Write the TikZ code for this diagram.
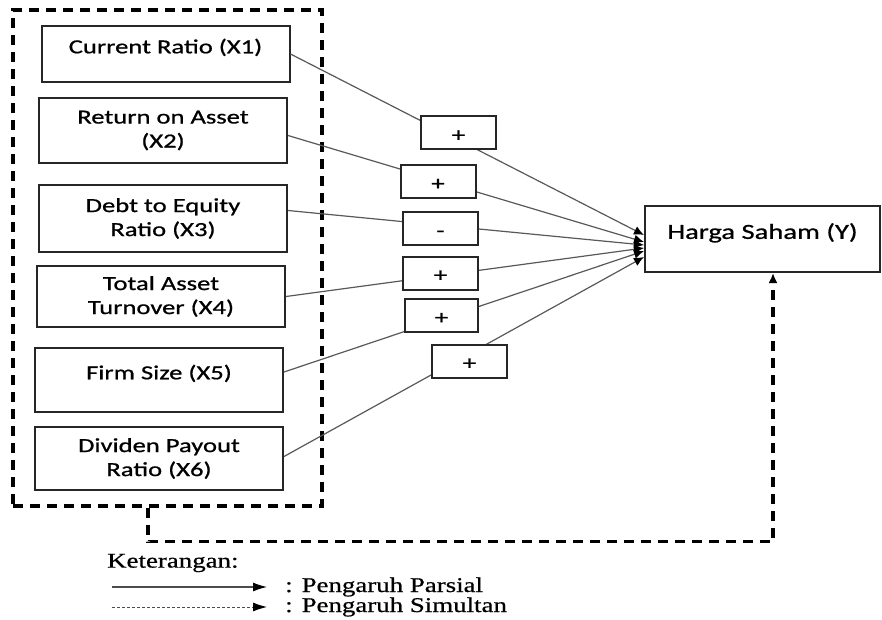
\documentclass[tikz,border=0pt]{standalone}
\usepackage{fontspec}
\setmainfont{Liberation Serif}
\newfontfamily\boxfont[FakeStretch=1.33,FakeBold=0.8]{Carlito}
\newfontfamily\notefont[FakeStretch=1.28,FakeBold=0.6]{Liberation Serif}
\usepackage{tikz}
\usetikzlibrary{arrows.meta,calc}
\tikzset{
  var/.style={draw=black!85, line width=2pt, minimum width=248pt, inner sep=0pt, align=center, font=\boxfont\fontsize{20}{24}\selectfont},
  sign/.style={draw=black!85, line width=2pt, fill=white, minimum width=75pt, minimum height=33pt, inner sep=0pt, text height=17pt, text depth=0pt, font=\boxfont\fontsize{20}{24}\selectfont},
  parsial/.style={draw=black!65, line width=1.2pt, -{Latex[length=10pt,width=9pt,black]}},
  simultan/.style={line width=3.4pt, dash pattern=on 10pt off 7pt},
  note/.style={anchor=west, inner sep=0pt, font=\notefont\fontsize{21}{22}\selectfont}
}
\begin{document}
\begin{tikzpicture}[x=1pt,y=-1pt]
\useasboundingbox[fill=white] (0,0) rectangle (882,620);
\node[draw, simultan, minimum width=309pt, minimum height=496pt, inner sep=0pt] (grp) at (167.5,258) {};
\node[var, minimum height=56pt] (x1) at (165.5,54) {Current Ratio (X1)\\[-8pt]~};
\node[var, minimum height=65pt] (x2) at (163,130.5) {Return on Asset\\(X2)};
\node[var, minimum height=67pt] (x3) at (163,218.5) {Debt to Equity\\Ratio (X3)};
\node[var, minimum height=61pt] (x4) at (161,296.5) {Total Asset\\Turnover (X4)};
\node[var, minimum height=64pt] (x5) at (159,380) {Firm Size (X5)\\[-8pt]~};
\node[var, minimum height=63pt] (x6) at (159,458.5) {Dividen Payout\\Ratio (X6)};
\node[var, minimum width=235pt, minimum height=66pt, font=\boxfont\fontsize{21.5}{24}\selectfont] (hy) at (762.5,239) {Harga Saham (Y)\\[-8pt]~};

\draw[parsial] (x1.east) -- ($(hy.west)+(0,-4)$);
\draw[parsial] ($(x2.east)+(0,5)$) -- ($(hy.west)+(0,3)$);
\draw[parsial] ($(x3.east)+(0,-8)$) -- ($(hy.west)+(0,6)$);
\draw[parsial] (x4.east) -- ($(hy.west)+(0,9)$);
\draw[parsial] ($(x5.east)+(0,-8)$) -- ($(hy.west)+(0,12)$);
\draw[parsial] ($(x6.east)+(0,-2)$) -- ($(hy.west)+(0,18)$);

\node[sign] (s1) at (458.5,133) {+};
\node[sign] (s2) at (438,181.5) {+};
\node[sign] (s3) at (440.5,228.5) {-};
\node[sign] (s4) at (440.5,273) {+};
\node[sign, minimum width=73pt] (s5) at (441.5,315.5) {+};
\node[sign] (s6) at (469.5,361) {+};

\draw[simultan, -{Latex[length=10pt,width=9pt]}] ([xshift=-19.5pt]grp.south) -- ++(0,34) -| ([xshift=10.5pt]hy.south);

\node[note] (ket) at (107,563) {Keterangan:};
\node[note] (tpar) at (285,587) {: Pengaruh Parsial};
\node[note] (tsim) at (285,607) {: Pengaruh Simultan};
\coordinate (lpar) at (112,587);
\coordinate (lsim) at (112,607);
\draw[black!70, line width=1.1pt, -{Latex[length=14pt,width=9pt,black]}] (lpar) -- ([xshift=-18pt]tpar.west);
\draw[black!70, line width=0.9pt, dash pattern=on 3pt off 2pt, -{Latex[length=14pt,width=9pt,black]}] (lsim) -- ([xshift=-18pt]tsim.west);
\end{tikzpicture}
\end{document}
